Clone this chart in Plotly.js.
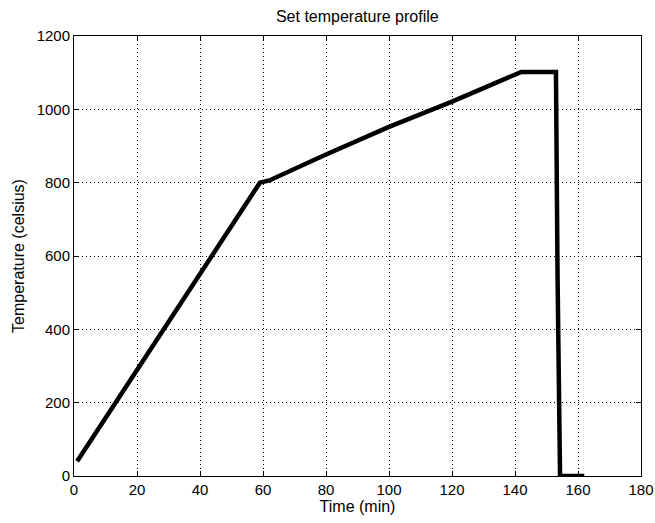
<!DOCTYPE html>
<html>
<head>
<meta charset="utf-8">
<script src="https://cdn.plot.ly/plotly-3.0.1.min.js"></script>
<style>html,body{margin:0;padding:0;background:#fff;}#chart{width:655px;height:523px;}</style>
</head>
<body>
<div id="chart"></div>
<script>
const timeMin = [1, 20, 40, 59, 62, 80, 100, 120, 142, 153, 153.5, 154.3, 162];
const tempC   = [40, 289, 552, 800, 806, 877, 952, 1021, 1102, 1102, 550, 0, 0];
const xTicks = [0, 20, 40, 60, 80, 100, 120, 140, 160, 180];
const yTicks = [0, 200, 400, 600, 800, 1000, 1200];

const fontFam = '"Liberation Sans", Arial, sans-serif';
const axisCommon = {
  showline: true, mirror: 'ticks', linecolor: '#000', linewidth: 1,
  ticks: 'inside', ticklen: 5, tickcolor: '#000', tickwidth: 1,
  showgrid: true, gridcolor: '#000', gridwidth: 1, griddash: '1px,3px',
  zeroline: false, tickfont: {family: fontFam, size: 15, color: '#000'}
};
Plotly.newPlot('chart', [{
  x: timeMin, y: tempC, type: 'scatter', mode: 'lines',
  line: {color: '#000', width: 4.5}, hoverinfo: 'skip'
}], {
  width: 655, height: 523,
  margin: {l: 74, r: 14, t: 36, b: 47},
  paper_bgcolor: '#fff', plot_bgcolor: '#fff',
  showlegend: false,
  title: {text: 'Set temperature profile', font: {family: fontFam, size: 16, color: '#000'},
    x: 0.5455, xanchor: 'center', xref: 'container', y: 0.969, yanchor: 'middle', yref: 'container'},
  xaxis: Object.assign({}, axisCommon, {range: [0, 180], tickvals: xTicks, ticktext: xTicks.map(String),
    title: {text: 'Time (min)', font: {family: fontFam, size: 16, color: '#000'}, standoff: 2}}),
  yaxis: Object.assign({}, axisCommon, {range: [0, 1200], tickvals: yTicks, ticktext: yTicks.map(String),
    title: {text: 'Temperature (celsius)', font: {family: fontFam, size: 16, color: '#000'}, standoff: 8}})
}, {displayModeBar: false, staticPlot: true});
</script>
</body>
</html>
